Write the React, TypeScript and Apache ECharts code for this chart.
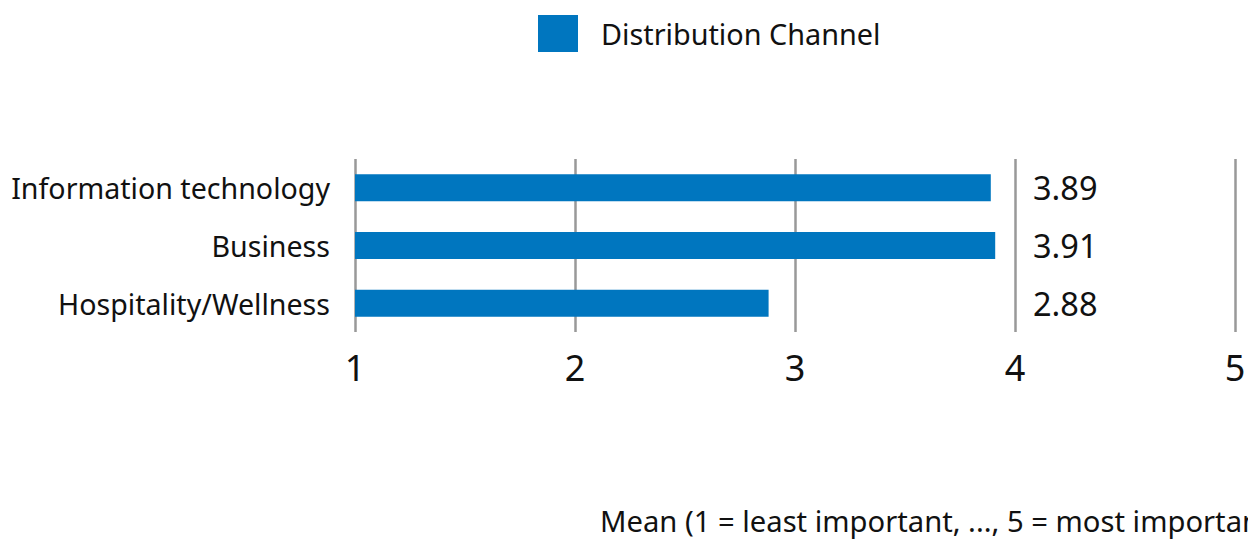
import React, { useEffect, useRef } from "react";
import * as echarts from "echarts";

const categories = ["Information technology", "Business", "Hospitality/Wellness"];
const values = [3.89, 3.91, 2.88];
const seriesName = "Distribution Channel";
const axisTitle = "Mean (1 = least important, ..., 5 = most important)";
const labelAnchor = 4;

const FONT = "'Noto Sans', 'Open Sans', sans-serif";
const BLUE = "#0076BF";
const TEXT = "#111111";

export default function App() {
  const ref = useRef<HTMLDivElement>(null);
  useEffect(() => {
    if (!ref.current) return;
    const chart = echarts.init(ref.current, null, { renderer: "svg" });
    chart.setOption({
      animation: false,
      textStyle: { fontFamily: FONT, color: TEXT },
      legend: {
        data: [seriesName],
        left: 538,
        top: 15,
        padding: 0,
        itemWidth: 40,
        itemHeight: 37,
        icon: "rect",
        selectedMode: false,
        textStyle: { fontFamily: FONT, fontSize: 28.8, color: TEXT, padding: [0, 0, 0, 18] },
      },
      grid: { left: 355, right: 21, top: 159, height: 173, containLabel: false },
      xAxis: {
        type: "value",
        min: 1,
        max: 5,
        interval: 1,
        axisLine: { show: false },
        axisTick: { show: false },
        axisLabel: { fontSize: 36, color: TEXT, fontFamily: FONT, margin: 17 },
        splitLine: { show: true, lineStyle: { color: "#999999", width: 2.5 } },
      },
      yAxis: {
        type: "category",
        data: categories,
        inverse: true,
        axisLine: { show: false },
        axisTick: { show: false },
        axisLabel: { fontSize: 28.6, color: TEXT, fontFamily: FONT, margin: 25 },
        splitLine: { show: false },
      },
      graphic: [
        {
          type: "text",
          left: 600,
          top: 506,
          style: { text: axisTitle, fontSize: 29.2, fontFamily: FONT, fill: TEXT },
        },
      ],
      series: [
        {
          name: seriesName,
          type: "bar",
          data: values,
          barWidth: 27,
          itemStyle: { color: BLUE },
        },
        {
          name: "labels",
          type: "scatter",
          symbolSize: 0,
          silent: true,
          itemStyle: { opacity: 1, color: "transparent" },
          data: values.map((v, i) => ({
            value: [labelAnchor, categories[i]],
            label: {
              show: true,
              position: "right",
              distance: 18,
              formatter: v.toFixed(2),
              fontSize: 32.5,
              color: TEXT,
              opacity: 1,
              fontFamily: FONT,
            },
          })),
        },
      ],
    });
    return () => chart.dispose();
  }, []);
  return <div ref={ref} style={{ width: 1256, height: 548, margin: -8 }} />;
}
